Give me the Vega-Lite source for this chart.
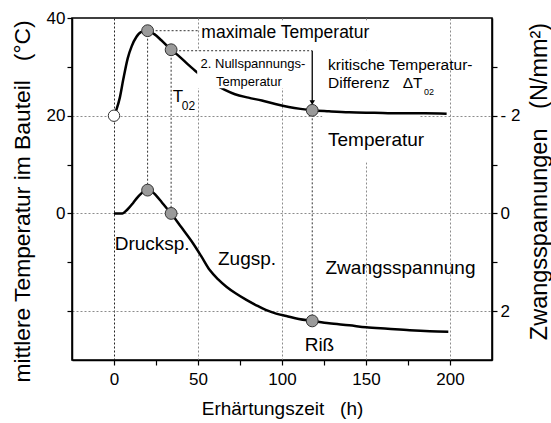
{
  "$schema": "https://vega.github.io/schema/vega-lite/v6.json",
  "width": 420,
  "height": 342,
  "autosize": {"type": "none"},
  "padding": {"left": 72, "top": 18, "right": 59, "bottom": 63},
  "background": "white",
  "config": {
    "font": "Liberation Sans",
    "view": {"stroke": "black", "strokeWidth": 1.6},
    "axis": {
      "domainColor": "black", "domainWidth": 1.5,
      "tickColor": "black", "tickWidth": 1.2, "tickSize": 5,
      "labelColor": "black", "titleColor": "black",
      "labelFont": "Liberation Sans", "titleFont": "Liberation Sans",
      "labelFontSize": 17, "titleFontWeight": "normal",
      "gridColor": "#8c8c8c", "gridDash": [2, 2], "gridWidth": 1,
      "labelOverlap": false
    }
  },
  "datasets": {
    "temp": [{"t":0,"v":20},{"t":1.5,"v":21.3},{"t":3.4,"v":23.6},{"t":5.5,"v":27.4},{"t":8.2,"v":31.8},{"t":10.5,"v":34.2},{"t":13.3,"v":36.1},{"t":16,"v":37.1},{"t":20,"v":37.4},{"t":24,"v":36.7},{"t":28,"v":35.5},{"t":34,"v":33.5},{"t":39,"v":32.1},{"t":44,"v":30.5},{"t":49,"v":29.0},{"t":55,"v":27.5},{"t":60,"v":26.4},{"t":66,"v":25.3},{"t":72,"v":24.4},{"t":80,"v":23.7},{"t":88,"v":23.1},{"t":96,"v":22.4},{"t":104,"v":21.8},{"t":111,"v":21.4},{"t":118,"v":21.1},{"t":128,"v":20.9},{"t":140,"v":20.7},{"t":155,"v":20.6},{"t":170,"v":20.5},{"t":185,"v":20.5},{"t":198,"v":20.4}],
    "stress": [{"t":0,"s":0},{"t":5,"s":0},{"t":8,"s":-0.08},{"t":11.3,"s":-0.21},{"t":14,"s":-0.33},{"t":16.3,"s":-0.41},{"t":18,"s":-0.46},{"t":20,"s":-0.477},{"t":22.5,"s":-0.45},{"t":25,"s":-0.37},{"t":28.2,"s":-0.24},{"t":31,"s":-0.12},{"t":34,"s":0},{"t":40,"s":0.28},{"t":47,"s":0.61},{"t":52,"s":0.88},{"t":57,"s":1.16},{"t":62,"s":1.35},{"t":66.9,"s":1.5},{"t":72.6,"s":1.64},{"t":78.8,"s":1.77},{"t":84.7,"s":1.88},{"t":90.7,"s":1.98},{"t":96.5,"s":2.05},{"t":102.6,"s":2.1},{"t":110,"s":2.16},{"t":118,"s":2.2},{"t":128,"s":2.25},{"t":140,"s":2.29},{"t":150,"s":2.33},{"t":163,"s":2.36},{"t":176,"s":2.39},{"t":188,"s":2.41},{"t":199,"s":2.42}],
    "tempPts": [{"t":20,"v":37.4},{"t":34,"v":33.5},{"t":118,"v":21.1}],
    "startPt": [{"t":0,"v":20}],
    "stressPts": [{"t":20,"s":-0.477},{"t":34,"s":0},{"t":118,"s":2.2}],
    "vlines": [{"t":20,"v1":37.4,"v2":4.77},{"t":34,"v1":33.5,"v2":0},{"t":118,"v1":21.1,"v2":-22}],
    "hlines": [{"t1":20,"t2":51,"v":37.4},{"t1":34,"t2":118,"v":33.3}],
    "arrow": [{"t":118,"v1":33.3,"v2":23.0}],
    "arrowHead": [{"t":118,"v":22.7}],
    "boxUnder": [{"t1":124,"t2":182,"v1":10.5,"v2":33.3}],
    "boxOver": [{"t1":51,"t2":182,"v1":33.3,"v2":39.5},{"t1":49.5,"t2":116,"v1":25.6,"v2":33.3}],
    "lab175": [{"t":52,"v":36.0,"label":"maximale Temperatur"}],
    "lab19": [{"t":127.4,"v":13.7,"label":"Temperatur"},{"t":0.4,"v":-7.5,"label":"Drucksp."},{"t":61.9,"v":-10.6,"label":"Zugsp."},{"t":125.9,"v":-12.4,"label":"Zwangsspannung"},{"t":113.5,"v":-28.1,"label":"Riß"}],
    "lab155": [{"t":127.4,"v":29.3,"label":"kritische Temperatur-"},{"t":127.4,"v":25.6,"label":"Differenz\u00a0\u00a0\u00a0ΔT"}],
    "lab13": [{"t":82.7,"v":29.7,"label":"2. Nullspannungs-"},{"t":80.3,"v":26.05,"label":"Temperatur"}],
    "labT": [{"t":34.9,"v":22.8,"label":"T"}],
    "sub12": [{"t":40.3,"v":21.1,"label":"02"}],
    "sub9": [{"t":184.5,"v":24.2,"label":"02"}]
  },
  "layer": [
    {
      "layer": [
        {
          "data": {"name": "boxUnder"},
          "mark": {"type": "rect", "fill": "white", "strokeWidth": 0},
          "encoding": {
            "x": {"field": "t1", "type": "quantitative", "scale": {"domain": [-25, 225], "nice": false, "zero": false},
              "axis": {
                "title": "Erhärtungszeit\u00a0\u00a0\u00a0(h)",
                "values": [0, 25, 50, 75, 100, 125, 150, 175, 200],
                "labelExpr": "datum.value % 50 === 0 ? datum.label : ''",
                "labelPadding": 6,
                "labelFlush": false,
                "grid": true,
                "gridOpacity": {"condition": {"test": "datum.value % 50 === 0", "value": 1}, "value": 0},
                "gridColor": {"condition": {"test": "datum.value === 0", "value": "#222222"}, "value": "#8c8c8c"},
                "titleFontSize": 19,
                "titleBaseline": "alphabetic",
                "titleY": 54
              }},
            "x2": {"field": "t2"},
            "y": {"field": "v1", "type": "quantitative", "scale": {"domain": [-30, 40], "nice": false, "zero": false},
              "axis": {
                "title": "mittlere Temperatur im Bauteil\u00a0\u00a0\u00a0(°C)",
                "orient": "left",
                "values": [-20, -10, 0, 10, 20, 30, 40],
                "labelExpr": "(datum.value === 0 || datum.value === 20 || datum.value === 40) ? datum.label : ''",
                "labelPadding": 2,
                "grid": true,
                "gridOpacity": {"condition": {"test": "datum.value % 20 === 0 && datum.value < 40", "value": 1}, "value": 0},
                "titleFontSize": 22.8,
                "titleAngle": 270,
                "titleAlign": "center",
                "titleBaseline": "middle",
                "titleX": -50,
                "titleY": 183
              }},
            "y2": {"field": "v2"}
          }
        },
        {
          "data": {"name": "temp"},
          "mark": {"type": "line", "color": "black", "strokeWidth": 2.5, "interpolate": "monotone"},
          "encoding": {
            "x": {"field": "t", "type": "quantitative", "scale": {"domain": [-25, 225], "nice": false, "zero": false}},
            "y": {"field": "v", "type": "quantitative", "scale": {"domain": [-30, 40], "nice": false, "zero": false}}
          }
        },
        {
          "data": {"name": "boxOver"},
          "mark": {"type": "rect", "fill": "white", "strokeWidth": 0},
          "encoding": {
            "x": {"field": "t1", "type": "quantitative", "scale": {"domain": [-25, 225], "nice": false, "zero": false}},
            "x2": {"field": "t2"},
            "y": {"field": "v1", "type": "quantitative", "scale": {"domain": [-30, 40], "nice": false, "zero": false}},
            "y2": {"field": "v2"}
          }
        },
        {
          "data": {"name": "vlines"},
          "mark": {"type": "rule", "color": "#333333", "strokeWidth": 1, "strokeDash": [2, 2]},
          "encoding": {
            "x": {"field": "t", "type": "quantitative", "scale": {"domain": [-25, 225], "nice": false, "zero": false}},
            "y": {"field": "v1", "type": "quantitative", "scale": {"domain": [-30, 40], "nice": false, "zero": false}},
            "y2": {"field": "v2"}
          }
        },
        {
          "data": {"name": "hlines"},
          "mark": {"type": "rule", "color": "#333333", "strokeWidth": 1, "strokeDash": [2, 2]},
          "encoding": {
            "x": {"field": "t1", "type": "quantitative", "scale": {"domain": [-25, 225], "nice": false, "zero": false}},
            "x2": {"field": "t2"},
            "y": {"field": "v", "type": "quantitative", "scale": {"domain": [-30, 40], "nice": false, "zero": false}}
          }
        },
        {
          "data": {"name": "arrow"},
          "mark": {"type": "rule", "color": "black", "strokeWidth": 1.3},
          "encoding": {
            "x": {"field": "t", "type": "quantitative", "scale": {"domain": [-25, 225], "nice": false, "zero": false}},
            "y": {"field": "v1", "type": "quantitative", "scale": {"domain": [-30, 40], "nice": false, "zero": false}},
            "y2": {"field": "v2"}
          }
        },
        {
          "data": {"name": "arrowHead"},
          "mark": {"type": "point", "shape": "triangle-down", "filled": true, "color": "black", "size": 30, "opacity": 1},
          "encoding": {
            "x": {"field": "t", "type": "quantitative", "scale": {"domain": [-25, 225], "nice": false, "zero": false}},
            "y": {"field": "v", "type": "quantitative", "scale": {"domain": [-30, 40], "nice": false, "zero": false}}
          }
        },
        {
          "data": {"name": "lab175"},
          "mark": {"type": "text", "align": "left", "baseline": "alphabetic", "fontSize": 17.5, "color": "black"},
          "encoding": {
            "x": {"field": "t", "type": "quantitative", "scale": {"domain": [-25, 225], "nice": false, "zero": false}},
            "y": {"field": "v", "type": "quantitative", "scale": {"domain": [-30, 40], "nice": false, "zero": false}},
            "text": {"field": "label"}
          }
        },
        {
          "data": {"name": "lab19"},
          "mark": {"type": "text", "align": "left", "baseline": "alphabetic", "fontSize": 19, "color": "black"},
          "encoding": {
            "x": {"field": "t", "type": "quantitative", "scale": {"domain": [-25, 225], "nice": false, "zero": false}},
            "y": {"field": "v", "type": "quantitative", "scale": {"domain": [-30, 40], "nice": false, "zero": false}},
            "text": {"field": "label"}
          }
        },
        {
          "data": {"name": "lab155"},
          "mark": {"type": "text", "align": "left", "baseline": "alphabetic", "fontSize": 15.5, "color": "black"},
          "encoding": {
            "x": {"field": "t", "type": "quantitative", "scale": {"domain": [-25, 225], "nice": false, "zero": false}},
            "y": {"field": "v", "type": "quantitative", "scale": {"domain": [-30, 40], "nice": false, "zero": false}},
            "text": {"field": "label"}
          }
        },
        {
          "data": {"name": "lab13"},
          "mark": {"type": "text", "align": "center", "baseline": "alphabetic", "fontSize": 13, "color": "black"},
          "encoding": {
            "x": {"field": "t", "type": "quantitative", "scale": {"domain": [-25, 225], "nice": false, "zero": false}},
            "y": {"field": "v", "type": "quantitative", "scale": {"domain": [-30, 40], "nice": false, "zero": false}},
            "text": {"field": "label"}
          }
        },
        {
          "data": {"name": "labT"},
          "mark": {"type": "text", "align": "left", "baseline": "alphabetic", "fontSize": 17, "color": "black"},
          "encoding": {
            "x": {"field": "t", "type": "quantitative", "scale": {"domain": [-25, 225], "nice": false, "zero": false}},
            "y": {"field": "v", "type": "quantitative", "scale": {"domain": [-30, 40], "nice": false, "zero": false}},
            "text": {"field": "label"}
          }
        },
        {
          "data": {"name": "sub12"},
          "mark": {"type": "text", "align": "left", "baseline": "alphabetic", "fontSize": 12, "color": "black"},
          "encoding": {
            "x": {"field": "t", "type": "quantitative", "scale": {"domain": [-25, 225], "nice": false, "zero": false}},
            "y": {"field": "v", "type": "quantitative", "scale": {"domain": [-30, 40], "nice": false, "zero": false}},
            "text": {"field": "label"}
          }
        },
        {
          "data": {"name": "sub9"},
          "mark": {"type": "text", "align": "left", "baseline": "alphabetic", "fontSize": 9, "color": "black"},
          "encoding": {
            "x": {"field": "t", "type": "quantitative", "scale": {"domain": [-25, 225], "nice": false, "zero": false}},
            "y": {"field": "v", "type": "quantitative", "scale": {"domain": [-30, 40], "nice": false, "zero": false}},
            "text": {"field": "label"}
          }
        },
        {
          "data": {"name": "tempPts"},
          "mark": {"type": "point", "shape": "circle", "filled": true, "fill": "#9a9a9a", "stroke": "#333333", "strokeWidth": 1, "size": 140, "opacity": 1},
          "encoding": {
            "x": {"field": "t", "type": "quantitative", "scale": {"domain": [-25, 225], "nice": false, "zero": false}},
            "y": {"field": "v", "type": "quantitative", "scale": {"domain": [-30, 40], "nice": false, "zero": false}}
          }
        },
        {
          "data": {"name": "startPt"},
          "mark": {"type": "point", "shape": "circle", "filled": true, "fill": "white", "stroke": "#333333", "strokeWidth": 1, "size": 130, "opacity": 1},
          "encoding": {
            "x": {"field": "t", "type": "quantitative", "scale": {"domain": [-25, 225], "nice": false, "zero": false}},
            "y": {"field": "v", "type": "quantitative", "scale": {"domain": [-30, 40], "nice": false, "zero": false}}
          }
        }
      ]
    },
    {
      "layer": [
        {
          "data": {"name": "stress"},
          "mark": {"type": "line", "color": "black", "strokeWidth": 2.5, "interpolate": "monotone"},
          "encoding": {
            "x": {"field": "t", "type": "quantitative", "scale": {"domain": [-25, 225], "nice": false, "zero": false}},
            "y": {"field": "s", "type": "quantitative", "scale": {"domain": [-4, 3], "reverse": true, "nice": false, "zero": false},
              "axis": {
                "orient": "right",
                "title": "Zwangsspannungen\u00a0\u00a0\u00a0(N/mm²)",
                "values": [-3, -2, -1, 0, 1, 2],
                "labelExpr": "datum.value === -2 ? '-\u00a02' : ((datum.value === 0 || datum.value === 2) ? datum.label : '')",
                "labelPadding": 3,
                "grid": false,
                "titleFontSize": 23.5,
                "titleAngle": 270,
                "titleAlign": "center",
                "titleBaseline": "middle",
                "titleX": 47,
                "titleY": 163
              }}
          }
        },
        {
          "data": {"name": "stressPts"},
          "mark": {"type": "point", "shape": "circle", "filled": true, "fill": "#9a9a9a", "stroke": "#333333", "strokeWidth": 1, "size": 140, "opacity": 1},
          "encoding": {
            "x": {"field": "t", "type": "quantitative", "scale": {"domain": [-25, 225], "nice": false, "zero": false}},
            "y": {"field": "s", "type": "quantitative", "scale": {"domain": [-4, 3], "reverse": true, "nice": false, "zero": false}}
          }
        }
      ]
    }
  ],
  "resolve": {"scale": {"y": "independent"}, "axis": {"y": "independent"}}
}
